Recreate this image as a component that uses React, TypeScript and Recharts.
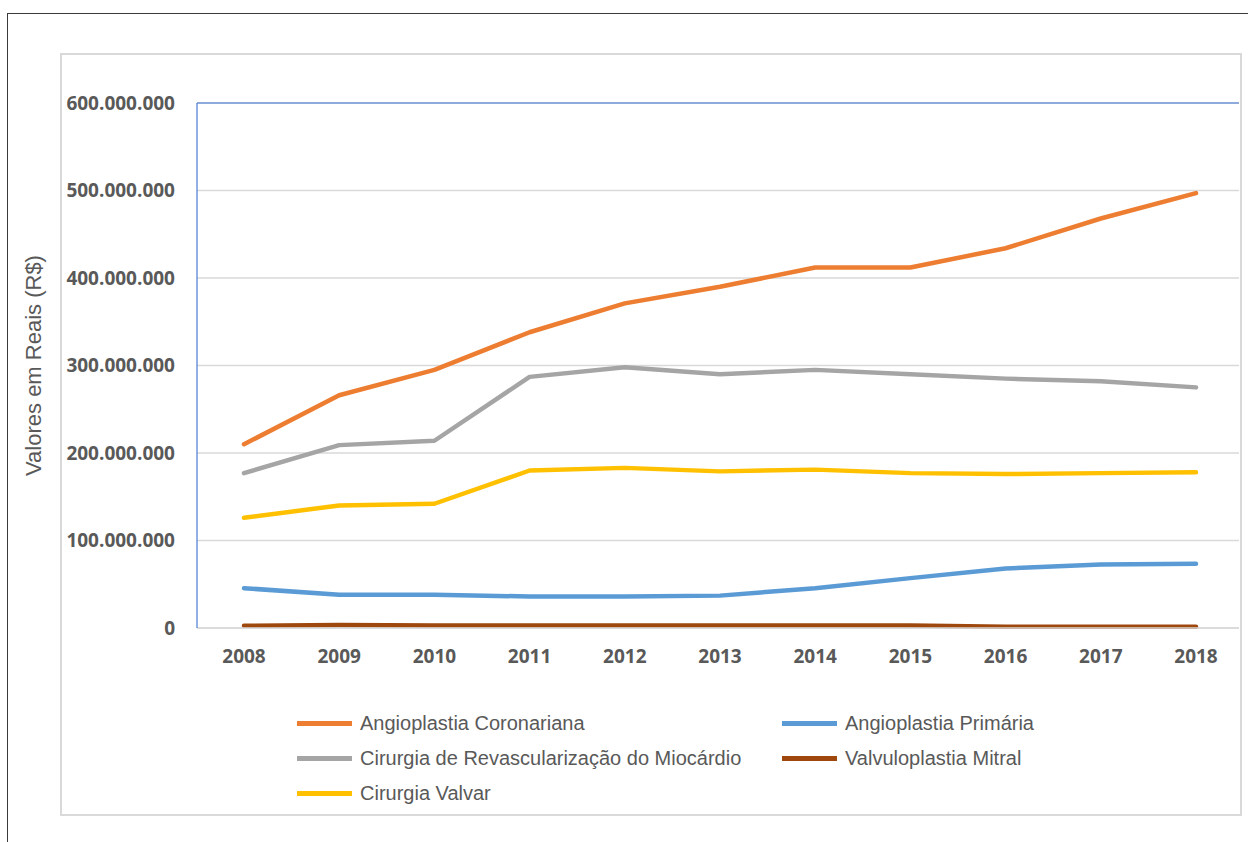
import React from "react";
import { LineChart, Line, XAxis, YAxis, CartesianGrid, ReferenceLine } from "recharts";

// values in millions of reais
const years = ["2008", "2009", "2010", "2011", "2012", "2013", "2014", "2015", "2016", "2017", "2018"];
const angioplastiaCoronariana = [210, 266, 295, 338, 371, 390, 412, 412, 434, 468, 497];
const angioplastiaPrimaria = [45.5, 38, 38, 36, 36, 37, 45.5, 57, 68, 72.5, 73.5];
const cirurgiaRevascularizacao = [177, 209, 214, 287, 298, 290, 295, 290, 285, 282, 275];
const valvuloplastiaMitral = [2.5, 3.5, 3, 3, 3, 3, 3, 3, 1.5, 1.5, 1.5];
const cirurgiaValvar = [126, 140, 142, 180, 183, 179, 181, 177, 176, 177, 178];
const yTicks = [0, 100, 200, 300, 400, 500, 600];

const series = [
  { key: "coronariana", name: "Angioplastia Coronariana", color: "#ED7D31", values: angioplastiaCoronariana },
  { key: "primaria", name: "Angioplastia Primária", color: "#5B9BD5", values: angioplastiaPrimaria },
  { key: "revascularizacao", name: "Cirurgia de Revascularização do Miocárdio", color: "#A5A5A5", values: cirurgiaRevascularizacao },
  { key: "mitral", name: "Valvuloplastia Mitral", color: "#9E480E", values: valvuloplastiaMitral },
  { key: "valvar", name: "Cirurgia Valvar", color: "#FFC000", values: cirurgiaValvar },
];

const data = years.map((year, i) => {
  const row: Record<string, any> = { year };
  series.forEach((s) => {
    row[s.key] = s.values[i] * 1000000;
  });
  return row;
});

const formatReais = (v: number) =>
  v === 0 ? "0" : Math.round(v).toString().replace(/\B(?=(\d{3})+(?!\d))/g, ".");

const tickStyle = { fill: "#595959", fontSize: 19, fontWeight: 700, fontFamily: "'Open Sans', sans-serif" };

// rotated axis title, sits left of the inner chart border like in the source
const AxisTitle = ({ viewBox }: any) => {
  const cy = viewBox.y + viewBox.height / 2;
  return (
    <text
      x={33}
      y={cy}
      transform={`rotate(-90, 33, ${cy})`}
      textAnchor="middle"
      dominantBaseline="central"
      fill="#595959"
      fontSize={22}
      fontFamily="'Liberation Sans', Arial, sans-serif"
    >
      Valores em Reais (R$)
    </text>
  );
};

export default function App() {
  return (
    <div style={{ position: "absolute", left: 0, top: 0, width: 1248, height: 842, background: "#fff" }}>
      {/* outer frame */}
      <div style={{ position: "absolute", left: 7, top: 13, right: 0, bottom: 0, borderTop: "1.5px solid #3a3a3a", borderLeft: "1.5px solid #3a3a3a" }} />
      {/* inner chart border */}
      <div style={{ position: "absolute", left: 60, top: 53, width: 1178, height: 759, border: "2px solid #d9d9d9" }} />

      <div style={{ position: "absolute", left: 0, top: 0 }}>
        <LineChart width={1248} height={842} data={data} margin={{ top: 103, right: 9, bottom: 0, left: 0 }}>
          <CartesianGrid vertical={false} stroke="#d9d9d9" strokeWidth={1.5} />
          <XAxis
            dataKey="year"
            scale="point"
            padding={{ left: 47, right: 43 }}
            axisLine={{ stroke: "#d9d9d9", strokeWidth: 1.5 }}
            tickLine={false}
            tickMargin={16}
            height={214}
            tick={tickStyle}
            interval={0}
          />
          <YAxis
            width={197}
            domain={[0, 600000000]}
            ticks={yTicks.map((t) => t * 1000000)}
            tickFormatter={formatReais}
            axisLine={{ stroke: "#4a7bd6", strokeWidth: 1.2 }}
            tickLine={false}
            tickMargin={16}
            tick={tickStyle}
            label={{ content: AxisTitle }}
          />
          <ReferenceLine y={600000000} stroke="#8eaadb" strokeWidth={2} />
          {series.map((s) => (
            <Line
              key={s.key}
              type="linear"
              dataKey={s.key}
              name={s.name}
              stroke={s.color}
              strokeWidth={4.5}
              strokeLinecap="round"
              strokeLinejoin="round"
              dot={false}
              activeDot={false}
              isAnimationActive={false}
            />
          ))}
        </LineChart>
      </div>

      {/* legend, two columns like the source */}
      <div
        style={{
          position: "absolute",
          left: 297,
          top: 706,
          display: "grid",
          gridTemplateColumns: "485px auto",
          rowGap: 0,
          fontFamily: "'Liberation Sans', Arial, sans-serif",
          fontSize: 20,
          color: "#595959",
        }}
      >
        {series.map((s) => (
          <div key={s.key} style={{ display: "flex", alignItems: "center", height: 35 }}>
            <span style={{ display: "inline-block", width: 55, height: 5, background: s.color, marginRight: 8 }} />
            <span>{s.name}</span>
          </div>
        ))}
      </div>
    </div>
  );
}
